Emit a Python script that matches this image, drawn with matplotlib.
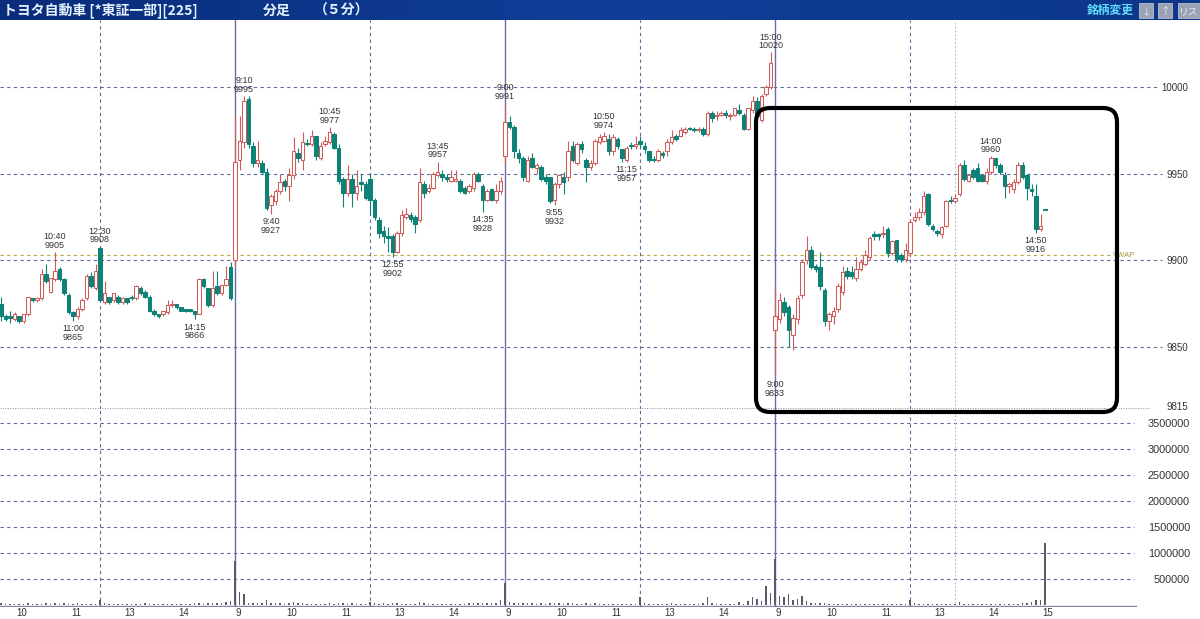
import numpy as np
import matplotlib
matplotlib.use("Agg")
import matplotlib.pyplot as plt
from matplotlib.patches import FancyBboxPatch, Rectangle
from matplotlib.colors import LinearSegmentedColormap
import matplotlib.transforms as mtransforms

# ---------------- data ----------------
title_text = "トヨタ自動車 [*東証一部][225]"
bar_type_text = "分足"
interval_text = "（５分）"
menu_text = "銘柄変更"

first_slot = 8          # first visible 5-min bar of day 1 (9:40)
vwap = 9903

# (open, high, low, close) per 5-minute bar
day1_ohlc = [
    (9875, 9879, 9865, 9868), (9868, 9869, 9865, 9866), (9867, 9871, 9864, 9867), (9866, 9870, 9865, 9869),
    (9868, 9868, 9864, 9865), (9865, 9869, 9864, 9869), (9869, 9879, 9868, 9879), (9878, 9878, 9876, 9877),
    (9877, 9879, 9876, 9878), (9878, 9895, 9877, 9892), (9892, 9898, 9887, 9888), (9882, 9890, 9881, 9890),
    (9889, 9905, 9888, 9894), (9895, 9896, 9888, 9889), (9889, 9890, 9880, 9881), (9880, 9881, 9869, 9870),
    (9870, 9871, 9865, 9868), (9868, 9873, 9866, 9872), (9872, 9878, 9871, 9877), (9878, 9892, 9877, 9891),
    (9891, 9893, 9884, 9885), (9884, 9898, 9883, 9894), (9907, 9908, 9876, 9877), (9876, 9888, 9875, 9881),
    (9879, 9879, 9875, 9876), (9877, 9881, 9876, 9881), (9879, 9880, 9875, 9876), (9876, 9879, 9875, 9878),
    (9878, 9878, 9875, 9876), (9879, 9880, 9877, 9878), (9878, 9886, 9877, 9885), (9884, 9885, 9880, 9881),
    (9882, 9883, 9878, 9879), (9879, 9880, 9870, 9871), (9871, 9872, 9868, 9869), (9869, 9869, 9867, 9868),
    (9869, 9871, 9868, 9871), (9870, 9877, 9869, 9874), (9874, 9877, 9873, 9875), (9875, 9875, 9872, 9873),
    (9873, 9873, 9871, 9871), (9872, 9872, 9870, 9871), (9872, 9872, 9870, 9871), (9871, 9871, 9866, 9869),
    (9869, 9890, 9869, 9889), (9889, 9890, 9884, 9885), (9884, 9884, 9873, 9874), (9874, 9894, 9873, 9884),
    (9885, 9894, 9880, 9881), (9881, 9886, 9880, 9886), (9886, 9897, 9885, 9889), (9896, 9899, 9877, 9878),
]
day2_ohlc = [
    (9900, 9984, 9896, 9957), (9958, 9983, 9952, 9969), (9968, 9995, 9965, 9992), (9993, 9995, 9965, 9967),
    (9966, 9968, 9954, 9956), (9956, 9969, 9954, 9958), (9956, 9958, 9950, 9951), (9951, 9953, 9929, 9930),
    (9932, 9938, 9927, 9937), (9934, 9941, 9932, 9940), (9940, 9950, 9938, 9945), (9946, 9947, 9940, 9943),
    (9943, 9953, 9934, 9949), (9949, 9971, 9947, 9963), (9962, 9965, 9957, 9959), (9958, 9974, 9952, 9968),
    (9967, 9970, 9966, 9967), (9967, 9975, 9966, 9972), (9972, 9972, 9958, 9960), (9959, 9968, 9958, 9966),
    (9967, 9972, 9966, 9969), (9968, 9977, 9967, 9974), (9973, 9974, 9964, 9965), (9965, 9967, 9944, 9946),
    (9947, 9948, 9931, 9939), (9939, 9955, 9937, 9947), (9947, 9950, 9931, 9939), (9939, 9952, 9935, 9943),
    (9945, 9950, 9940, 9944), (9944, 9946, 9935, 9936), (9947, 9950, 9926, 9935), (9935, 9936, 9923, 9925),
    (9923, 9925, 9913, 9916), (9917, 9920, 9910, 9914), (9914, 9919, 9905, 9913), (9914, 9915, 9902, 9905),
    (9905, 9917, 9904, 9916), (9916, 9929, 9914, 9926), (9925, 9930, 9924, 9927), (9926, 9928, 9922, 9924),
    (9925, 9926, 9916, 9921), (9923, 9953, 9922, 9945), (9944, 9946, 9936, 9939), (9940, 9944, 9939, 9942),
    (9942, 9951, 9941, 9950), (9949, 9957, 9948, 9951), (9950, 9952, 9946, 9948), (9948, 9950, 9945, 9947),
    (9946, 9952, 9945, 9948), (9946, 9952, 9945, 9947), (9946, 9947, 9939, 9940), (9942, 9943, 9938, 9939),
    (9940, 9944, 9939, 9943), (9942, 9951, 9940, 9950), (9950, 9951, 9945, 9946), (9943, 9944, 9928, 9935),
    (9935, 9941, 9934, 9940), (9941, 9942, 9934, 9935), (9935, 9944, 9933, 9940), (9940, 9948, 9938, 9946),
]
day3_ohlc = [
    (9960, 9991, 9956, 9980), (9980, 9983, 9976, 9977), (9977, 9978, 9959, 9963), (9962, 9964, 9956, 9959),
    (9959, 9960, 9946, 9948), (9946, 9960, 9945, 9958), (9959, 9962, 9953, 9954), (9953, 9956, 9950, 9955),
    (9954, 9955, 9946, 9947), (9948, 9950, 9944, 9946), (9948, 9948, 9933, 9934), (9935, 9945, 9932, 9944),
    (9944, 9950, 9942, 9949), (9948, 9951, 9938, 9945), (9948, 9969, 9946, 9963), (9966, 9969, 9957, 9958),
    (9956, 9968, 9955, 9967), (9967, 9969, 9962, 9964), (9958, 9959, 9945, 9954), (9954, 9958, 9952, 9956),
    (9956, 9970, 9955, 9969), (9968, 9973, 9967, 9971), (9969, 9974, 9968, 9972), (9970, 9973, 9961, 9963),
    (9963, 9973, 9961, 9971), (9970, 9971, 9964, 9966), (9964, 9964, 9957, 9959), (9958, 9966, 9957, 9965),
    (9966, 9968, 9964, 9966), (9966, 9972, 9964, 9967), (9969, 9972, 9965, 9967), (9966, 9968, 9962, 9964),
    (9963, 9963, 9957, 9958), (9958, 9960, 9957, 9958), (9958, 9964, 9957, 9963), (9962, 9963, 9959, 9961),
    (9963, 9970, 9960, 9968), (9968, 9975, 9967, 9971), (9972, 9973, 9969, 9970), (9972, 9977, 9971, 9975),
    (9974, 9977, 9973, 9976), (9976, 9977, 9975, 9976), (9976, 9977, 9974, 9975), (9975, 9977, 9974, 9976),
    (9976, 9977, 9972, 9973), (9973, 9986, 9972, 9985), (9985, 9986, 9980, 9982), (9983, 9986, 9981, 9984),
    (9984, 9986, 9983, 9985), (9985, 9987, 9982, 9984), (9983, 9985, 9981, 9984), (9984, 9988, 9983, 9988),
    (9987, 9990, 9984, 9985), (9984, 9985, 9975, 9976), (9976, 9988, 9975, 9988), (9987, 9995, 9985, 9992),
    (9992, 9994, 9981, 9983), (9981, 9996, 9980, 9995), (9996, 10001, 9995, 10000), (10000, 10020, 9999, 10014),
]
day4_ohlc = [
    (9860, 9885, 9833, 9868), (9866, 9881, 9864, 9877), (9876, 9879, 9868, 9870), (9873, 9874, 9850, 9860),
    (9857, 9869, 9848, 9867), (9866, 9880, 9863, 9878), (9880, 9901, 9878, 9899), (9900, 9914, 9898, 9906),
    (9906, 9908, 9895, 9896), (9897, 9898, 9893, 9895), (9896, 9905, 9883, 9885), (9883, 9884, 9862, 9865),
    (9865, 9870, 9860, 9869), (9868, 9873, 9863, 9871), (9872, 9887, 9870, 9885), (9882, 9897, 9880, 9893),
    (9894, 9896, 9889, 9891), (9893, 9897, 9889, 9891), (9890, 9902, 9888, 9895), (9895, 9900, 9894, 9899),
    (9898, 9906, 9897, 9903), (9902, 9914, 9900, 9913), (9915, 9917, 9912, 9914), (9915, 9916, 9912, 9914),
    (9915, 9920, 9913, 9916), (9918, 9919, 9902, 9904), (9904, 9912, 9903, 9911), (9912, 9912, 9899, 9901),
    (9903, 9904, 9899, 9901), (9901, 9910, 9899, 9906), (9904, 9924, 9902, 9922), (9923, 9928, 9922, 9925),
    (9925, 9930, 9923, 9928), (9928, 9940, 9926, 9937), (9938, 9939, 9920, 9921), (9920, 9921, 9917, 9918),
    (9917, 9918, 9914, 9916), (9915, 9920, 9913, 9919), (9920, 9935, 9919, 9934), (9935, 9937, 9933, 9934),
    (9934, 9938, 9933, 9936), (9938, 9956, 9937, 9955), (9955, 9958, 9946, 9947), (9946, 9950, 9945, 9949),
    (9952, 9953, 9947, 9948), (9953, 9956, 9945, 9946), (9949, 9950, 9945, 9946), (9946, 9953, 9944, 9951),
    (9951, 9960, 9950, 9959), (9959, 9959, 9953, 9955), (9955, 9956, 9950, 9951), (9949, 9951, 9936, 9943),
    (9943, 9945, 9939, 9944), (9941, 9947, 9939, 9945), (9945, 9957, 9944, 9955), (9955, 9957, 9947, 9948),
    (9949, 9950, 9935, 9942), (9941, 9944, 9937, 9940), (9937, 9944, 9916, 9918), (9918, 9927, 9917, 9920),
    (9929, 9929, 9929, 9929),
]

# volume per bar (thousand shares)
day1_volume = [30, 22, 18, 26, 20, 24, 42, 20, 18, 22, 40, 28,
               46, 26, 34, 28, 22, 30, 20, 26, 22, 18,
               105, 45, 25, 20, 22, 18, 15, 20, 25, 18,
               40, 22, 18, 15, 20, 18, 22, 18, 25, 15,
               28, 30, 32, 25, 35, 30, 40, 46, 55, 79]
day2_volume = [849, 250, 204, 46, 46, 46, 40, 92, 46, 30,
               35, 25, 30, 55, 30, 40, 25, 20, 28, 22,
               25, 30, 22, 40, 35, 28, 30, 22, 25, 20,
               59, 30, 25, 40, 28, 35, 30, 22, 25, 20,
               22, 59, 30, 25, 22, 28, 20, 18, 25, 22,
               28, 25, 30, 35, 30, 40, 35, 40, 46, 92]
day3_volume = [421, 59, 46, 46, 40, 35, 30, 28, 30, 25,
               40, 46, 30, 28, 40, 30, 25, 22, 30, 20,
               30, 25, 28, 22, 25, 20, 18, 25, 20, 18,
               158, 30, 25, 22, 20, 18, 25, 46, 20, 18,
               22, 20, 18, 25, 30, 145, 30, 22, 20, 25,
               20, 26, 59, 26, 79, 158, 112, 72, 368, 224]
day4_volume = [882, 178, 158, 204, 105, 112, 178, 72, 40, 40,
               35, 30, 28, 20, 25, 22, 18, 20, 25, 18,
               20, 18, 15, 18, 20, 15, 18, 22, 18, 20,
               105, 30, 25, 28, 20, 18, 15, 20, 25, 18,
               18, 53, 20, 18, 15, 18, 20, 18, 25, 20,
               22, 25, 18, 20, 25, 30, 40, 50, 92, 92,
               1197]
volume_unit = 1000

price_ticks = [9850, 9900, 9950, 10000]
price_floor = 9815
volume_ticks = [500000, 1000000, 1500000, 2000000, 2500000, 3000000, 3500000]
hour_ticks = [9, 10, 11, 13, 14]
close_tick = "15:00"
marker_time = "13:20"

high_marks = [(0, "10:40"), (0, "12:30"), (1, "9:10"), (1, "10:45"), (1, "13:45"),
              (2, "9:00"), (2, "10:50"), (2, "15:00"), (3, "14:00")]
low_marks = [(0, "11:00"), (0, "14:15"), (1, "9:40"), (1, "12:55"), (1, "14:35"),
             (2, "9:55"), (2, "11:15"), (3, "9:00"), (3, "14:50")]

# ---------------- helpers ----------------
W, H = 1200, 619
SLOTS_PER_DAY = 60
PX_PER_SLOT = 4.5
X0_PX = -35.0  # pixel position of slot 0


def time_to_slot(day, hhmm):
    h, m = map(int, hhmm.split(":"))
    t = h * 60 + m
    s = (t - 540) / 5 if t < 12 * 60 else 30 + (t - 750) / 5
    return day * SLOTS_PER_DAY + min(s, SLOTS_PER_DAY - 1)


def rect(x0, y0, x1, y1):
    return [x0 / W, 1 - y1 / H, (x1 - x0) / W, (y1 - y0) / H]


ohlc = np.array(day1_ohlc + day2_ohlc + day3_ohlc + day4_ohlc, dtype=float)
o, hi, lo, c = ohlc.T
vol = np.array(day1_volume + day2_volume + day3_volume + day4_volume, dtype=float) * volume_unit
assert len(vol) == len(o)
xs = first_slot + np.arange(len(o))

RED = "#cf5b5b"
TEAL = "#0d8276"
GRID = "#5d6b9c"
DAYLINE = "#6b6bab"

plt.rcParams["font.family"] = ["Liberation Sans", "DejaVu Sans"]
fig = plt.figure(figsize=(W / 100, H / 100), dpi=100)
fig.patch.set_facecolor("white")

slot_lim = ((0 - X0_PX) / PX_PER_SLOT, (W - X0_PX) / PX_PER_SLOT)

# ---------------- header ----------------
ax_h = fig.add_axes(rect(0, 0, W, 20))
grad = np.linspace(0, 1, 256).reshape(1, -1)
hcm = LinearSegmentedColormap.from_list("hdr", ["#0a2c7a", "#0f3f98", "#0c3689"])
ax_h.imshow(grad, aspect="auto", cmap=hcm, extent=(0, W, 20, 0))
ax_h.set_xlim(0, W)
ax_h.set_ylim(20, 0)
ax_h.axis("off")
cjk = ["Noto Sans CJK JP", "DejaVu Sans"]
hdr_col = "#e4f2ff"
ax_h.text(3, 10.5, title_text, color=hdr_col, fontsize=10, family=cjk, va="center", ha="left", fontweight="bold")
ax_h.text(263, 10.5, bar_type_text, color=hdr_col, fontsize=10, family=cjk, va="center", ha="left", fontweight="bold")
ax_h.text(314, 10.5, interval_text, color=hdr_col, fontsize=10, family=cjk, va="center", ha="left", fontweight="bold")
ax_h.text(1087, 10.5, menu_text, color="#5fdcff", fontsize=8.5, family=cjk, va="center", ha="left", fontweight="bold")
for bx, bw, glyph in [(1139, 14, "↓"), (1158, 14, "↑"), (1178, 22, "リス")]:
    ax_h.add_patch(Rectangle((bx, 3), bw, 15, facecolor="#9aa2b4", edgecolor="#b8c0d0", lw=0.6))
    ax_h.text(bx + bw / 2, 10.8, glyph, color="#e8ecf4", fontsize=7, family=cjk, ha="center", va="center")

# ---------------- volume panel (drawn first, below price panel) ----------------
ax_v = fig.add_axes(rect(0, 409, W, 607), zorder=1)
ax_v.patch.set_alpha(0)
v_per_px = 500000 / 26
ax_v.set_xlim(*slot_lim)
ax_v.set_ylim(-2 * v_per_px, (605 - 409) * v_per_px)
for s in ax_v.spines.values():
    s.set_visible(False)
for vt in volume_ticks:
    ax_v.axhline(vt, xmax=1134 / W, color=GRID, lw=0.8, ls=(0, (3, 3)), zorder=1)
ax_v.axhline(-1 * v_per_px, xmax=1136 / W, color="#8088a0", lw=1.0, zorder=2)
ax_v.bar(xs, vol, width=0.28, color="#5a5a6a", zorder=3)

ax_v.yaxis.tick_right()
ax_v.set_yticks(volume_ticks)
ax_v.set_yticklabels([str(v) for v in volume_ticks])
ax_v.tick_params(axis="y", length=0, pad=-10 * 0.72, labelsize=7.8, labelcolor="#333333")
for lab in ax_v.get_yticklabels():
    lab.set_horizontalalignment("right")

xt, xl = [], []
for d in range(4):
    for h in hour_ticks:
        s = time_to_slot(d, f"{h}:00")
        if s >= slot_lim[0]:
            xt.append(s)
            xl.append(str(h))
xt.append(time_to_slot(3, close_tick) + 1)
xl.append(close_tick.split(":")[0])
ax_v.set_xticks(xt)
ax_v.set_xticklabels(xl)
ax_v.tick_params(axis="x", length=0, pad=0.5, labelsize=7, labelcolor="#333333")
off = mtransforms.ScaledTranslation(3 / 100, 0, fig.dpi_scale_trans)
for lab in ax_v.get_xticklabels():
    lab.set_transform(lab.get_transform() + off)

# ---------------- price panel ----------------
ax_p = fig.add_axes(rect(0, 20, W, 409), zorder=2)
ax_p.patch.set_alpha(0)
p_top = 10000 + (87 - 20) / 1.7333
p_bot = 10000 - (409 - 87) / 1.7333
ax_p.set_xlim(*slot_lim)
ax_p.set_ylim(p_bot, p_top)
for s in ax_p.spines.values():
    s.set_visible(False)
ax_p.set_xticks([])

for pt in price_ticks:
    wpx = len(str(pt)) * 5.4 + 4
    ax_p.axhline(pt, xmax=(1188 - wpx) / W, color=GRID, lw=0.8, ls=(0, (3, 3)), zorder=1)
ax_p.axhline(price_floor, xmax=1150 / W, color="#8a8fa8", lw=0.7, ls=(0, (1, 1.5)), zorder=1)
ax_p.axhline(vwap, xmax=1112 / W, color="#b9a93e", lw=0.8, ls=(0, (3, 3)), zorder=1)
ax_p.text(slot_lim[0] + (1113 / PX_PER_SLOT), vwap, "VWAP", color="#a09a3a", fontsize=5.5, va="center", ha="left")

ax_p.yaxis.tick_right()
ax_p.set_yticks(price_ticks + [price_floor])
ax_p.set_yticklabels([str(t) for t in price_ticks] + [str(price_floor)])
ax_p.tick_params(axis="y", length=0, pad=-12 * 0.72, labelsize=7, labelcolor="#333333")
for lab in ax_p.get_yticklabels():
    lab.set_horizontalalignment("right")
ax_p.get_yticklabels()[-1].set_transform(
    ax_p.get_yticklabels()[-1].get_transform() + mtransforms.ScaledTranslation(0, 2 / 100, fig.dpi_scale_trans))

# candles
up = c > o
wick_col = np.where(up, RED, TEAL)
ax_p.vlines(xs, lo, hi, colors=wick_col, lw=0.8, zorder=3)
bw = 0.74
ax_p.bar(xs[up], (c - o)[up], bottom=o[up], width=bw, facecolor="white", edgecolor=RED, lw=0.75, zorder=4)
dn = ~up
body_h = np.maximum((o - c)[dn], 0.6)
ax_p.bar(xs[dn], body_h, bottom=np.minimum(o, c)[dn], width=bw, facecolor=TEAL, edgecolor=TEAL, lw=0.75, zorder=4)

# extreme labels
for d, t in high_marks:
    i = int(round(time_to_slot(d, t) - first_slot))
    ax_p.annotate(f"{t}\n{int(hi[i])}", xy=(xs[i], hi[i]), xytext=(0, 1.5), textcoords="offset points",
                  ha="center", va="bottom", fontsize=6.5, color="#333333", linespacing=0.95, zorder=6)
for d, t in low_marks:
    i = int(round(time_to_slot(d, t) - first_slot))
    ax_p.annotate(f"{t}\n{int(lo[i])}", xy=(xs[i], lo[i]), xytext=(0, -2.5), textcoords="offset points",
                  ha="center", va="top", fontsize=6.5, color="#333333", linespacing=0.95, zorder=6)

day_starts = [d * SLOTS_PER_DAY for d in range(1, 4)]
lunch_lines = [time_to_slot(d, "12:30") for d in range(4)]
for ax in (ax_p, ax_v):
    for s in day_starts:
        ax.axvline(s, color=DAYLINE, lw=1.0, zorder=2)
    for s in lunch_lines:
        ax.axvline(s, color=GRID, lw=0.8, ls=(0, (3, 3)), zorder=2)
    ax.axvline(time_to_slot(3, marker_time), color="#b4b8c8", lw=0.8, ls=(0, (1.5, 2)), zorder=2)

# ---------------- annotation box ----------------
ax_o = fig.add_axes([0, 0, 1, 1], zorder=10)
ax_o.set_xlim(0, W)
ax_o.set_ylim(H, 0)
ax_o.axis("off")
ax_o.patch.set_alpha(0)
ax_o.add_patch(FancyBboxPatch((756, 108), 361, 304, boxstyle="round,pad=0,rounding_size=14",
                              facecolor="none", edgecolor="black", lw=3.0))

fig.savefig("out.png", dpi=100, facecolor="white")
